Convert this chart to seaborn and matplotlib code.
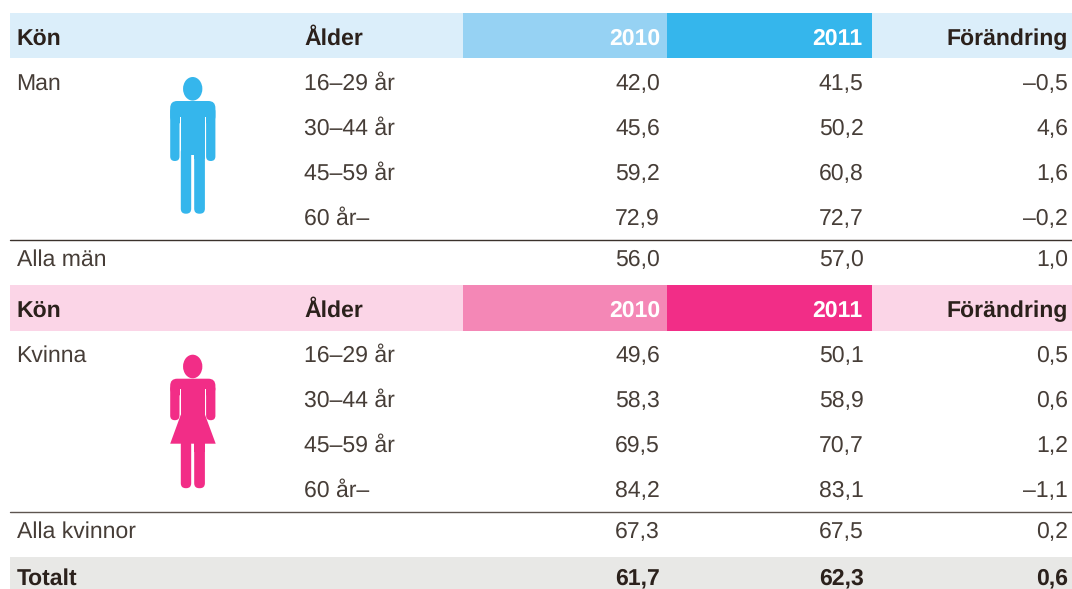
import matplotlib
matplotlib.use("Agg")
import matplotlib.pyplot as plt
from matplotlib.patches import Rectangle, FancyBboxPatch, Ellipse, Polygon
import seaborn as sns
import pandas as pd

ages = ["16–29 år", "30–44 år", "45–59 år", "60 år–"]
men_2010 = [42.0, 45.6, 59.2, 72.9]
men_2011 = [41.5, 50.2, 60.8, 72.7]
men_change = [-0.5, 4.6, 1.6, -0.2]
women_2010 = [49.6, 58.3, 69.5, 84.2]
women_2011 = [50.1, 58.9, 70.7, 83.1]
women_change = [0.5, 0.6, 1.2, -1.1]
all_men = [56.0, 57.0, 1.0]
all_women = [67.3, 67.5, 0.2]
total = [61.7, 62.3, 0.6]
header_labels = ["Kön", "Ålder", "2010", "2011", "Förändring"]

sns.set_theme(style="white")
plt.rcParams["font.family"] = ["Liberation Sans", "DejaVu Sans"]
plt.rcParams["text.hinting"] = "none"
plt.rcParams["text.hinting_factor"] = 1

INK = "#463d37"
BOLD_INK = "#2b211c"
FS = 16.5
FSB = 16.9

fig, ax = plt.subplots(figsize=(10.72, 5.89), dpi=100)
ax.set_position([0, 0, 1, 1])
ax.set_xlim(0, 1072)
ax.set_ylim(589, 0)
ax.set_xticks([])
ax.set_yticks([])
sns.despine(ax=ax, left=True, bottom=True)
ax.patch.set_alpha(0)

X_SEX, X_AGE, X_A, X_B, X_C = 16.6, 304.5, 660, 863.5, 1068


def fmt(v):
    s = f"{abs(v):.1f}".replace(".", ",")
    return ("–" + s) if v < 0 else s


def band(y0, y1, colors):
    ax.add_patch(Rectangle((10, y0), 1062, y1 - y0, color=colors[0], lw=0))
    ax.add_patch(Rectangle((463, y0), 204, y1 - y0, color=colors[1], lw=0))
    ax.add_patch(Rectangle((667, y0), 205, y1 - y0, color=colors[2], lw=0))


def header(base):
    ax.text(X_SEX, base + 1, header_labels[0], fontsize=FSB, fontweight="bold", color=BOLD_INK)
    ax.text(X_AGE - 0.5, base, header_labels[1], fontsize=FSB, fontweight="bold", color=BOLD_INK)
    ax.text(X_A, base, header_labels[2], fontsize=FS, fontweight="bold", color="white", ha="right")
    ax.text(X_B - 1, base, header_labels[3], fontsize=FS, fontweight="bold", color="white", ha="right")
    ax.text(X_C, base, header_labels[4], fontsize=FSB, fontweight="bold", color=BOLD_INK, ha="right")


def values(base, vals, **kw):
    for x, v in zip((X_A, X_B, X_C), vals):
        ax.text(x, base, fmt(v), fontsize=FS, color=kw.get("color", INK),
                fontweight=kw.get("fontweight", "normal"), ha="right")


def block(df, bases):
    for base, row in zip(bases, df.itertuples()):
        ax.text(X_AGE, base, row.age, fontsize=FS, color=INK)
        values(base, (row.y2010, row.y2011, row.change))


def rbox(x0, y0, x1, y1, r, color):
    ax.add_patch(FancyBboxPatch((x0 + r, y0 + r), x1 - x0 - 2 * r, y1 - y0 - 2 * r,
                                boxstyle=f"round,pad={r},rounding_size={r}",
                                fc=color, ec="none", lw=0))


def person(top, color, skirt):
    # head
    ax.add_patch(Ellipse((192.7, top + 11.8), 19.3, 23.6, fc=color, ec="none"))
    # shoulders, down to where the arms part from the body
    split = top + (34.6 if skirt else 40.3)
    rbox(170.2, top + 24, 215.4, split + 6, 7, color)
    ax.add_patch(Rectangle((179, split - 3), 28, 9, fc=color, ec="none"))
    ax.add_patch(Rectangle((179.5, split), 1.3, 7, fc="white", ec="none"))
    ax.add_patch(Rectangle((205, split), 1.1, 7, fc="white", ec="none"))
    # arms
    arm_end = top + (65.5 if skirt else 84)
    rbox(170.2, top + 30, 179.5, arm_end, 4.6, color)
    rbox(206.1, top + 30, 215.4, arm_end, 4.6, color)
    # torso
    body_end = top + (63 if skirt else 77)
    ax.add_patch(Rectangle((180.8, split), 24.2, body_end - split + 0.5, fc=color, ec="none"))
    if skirt:
        ax.add_patch(Polygon([(180.8, top + 60), (205, top + 60), (215.7, top + 89), (170.2, top + 89)],
                             closed=True, fc=color, ec="none"))
    # legs
    leg_top = top + (85 if skirt else 70)
    leg_bot = top + (133.5 if skirt else 136.7)
    rbox(180.8, leg_top, 191.2, leg_bot, 5, color)
    rbox(194.2, leg_top, 204.9, leg_bot, 5, color)
    ax.add_patch(Rectangle((180.8, leg_top), 10.4, 12, fc=color, ec="none"))
    ax.add_patch(Rectangle((194.2, leg_top), 10.7, 12, fc=color, ec="none"))


men = pd.DataFrame({"age": ages, "y2010": men_2010, "y2011": men_2011, "change": men_change})
women = pd.DataFrame({"age": ages, "y2010": women_2010, "y2011": women_2011, "change": women_change})

# Men
band(13, 58, ("#dbeefa", "#96d2f3", "#35b6ec"))
header(45)
ax.text(X_SEX, 91, "Man", fontsize=FS, color=INK)
block(men, [90, 135, 180, 225])
person(77, "#35b6ec", False)
ax.plot([10, 1072], [239.7, 239.7], color="#3b322c", lw=1)
ax.text(X_SEX, 266, "Alla män", fontsize=FS, color=INK)
values(266, all_men)

# Women
band(285, 331, ("#fbd5e7", "#f487b6", "#f22d87"))
header(317)
ax.text(X_SEX, 362, "Kvinna", fontsize=FS, color=INK)
block(women, [362, 407, 452, 497])
person(354.7, "#f22d87", True)
ax.plot([10, 1072], [512, 512], color="#5d5550", lw=1)
ax.text(X_SEX, 538, "Alla kvinnor", fontsize=FS, color=INK)
values(538, all_women)

# Total
ax.add_patch(Rectangle((10, 557), 1062, 32, color="#e8e8e6", lw=0))
ax.text(X_SEX, 585, "Totalt", fontsize=FSB, fontweight="bold", color=BOLD_INK)
values(584, total, fontweight="bold", color=BOLD_INK)

fig.savefig("out.png", dpi=100, facecolor="white")
